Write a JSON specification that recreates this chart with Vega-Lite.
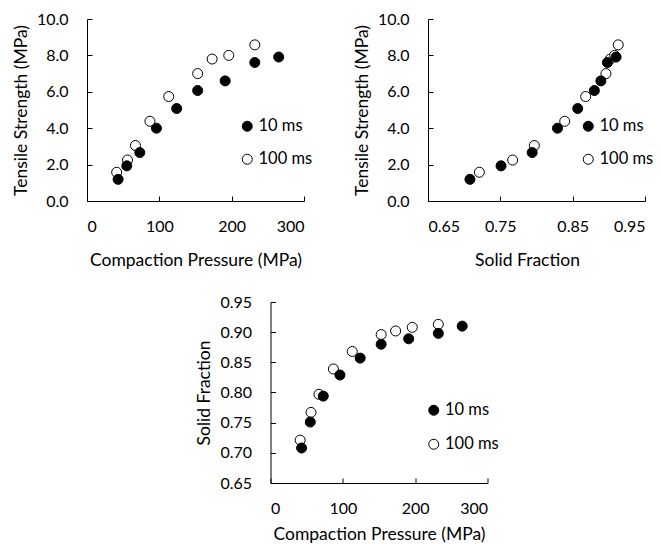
{
  "$schema": "https://vega.github.io/schema/vega-lite/v6.json",
  "background": "white",
  "padding": {"left": 12, "top": 11, "right": 0, "bottom": 0},
  "data": {"values": [
    {"series": "100 ms", "pressure": 41, "sf": 0.721, "ts": 1.58},
    {"series": "100 ms", "pressure": 56, "sf": 0.767, "ts": 2.25},
    {"series": "100 ms", "pressure": 67, "sf": 0.797, "ts": 3.05},
    {"series": "100 ms", "pressure": 87, "sf": 0.839, "ts": 4.38},
    {"series": "100 ms", "pressure": 113, "sf": 0.868, "ts": 5.74},
    {"series": "100 ms", "pressure": 153, "sf": 0.896, "ts": 7.0},
    {"series": "100 ms", "pressure": 173, "sf": 0.902, "ts": 7.8},
    {"series": "100 ms", "pressure": 196, "sf": 0.908, "ts": 8.0},
    {"series": "100 ms", "pressure": 232, "sf": 0.913, "ts": 8.58},
    {"series": "10 ms", "pressure": 43, "sf": 0.708, "ts": 1.19},
    {"series": "10 ms", "pressure": 55, "sf": 0.751, "ts": 1.93},
    {"series": "10 ms", "pressure": 73, "sf": 0.794, "ts": 2.66},
    {"series": "10 ms", "pressure": 96, "sf": 0.829, "ts": 4.0},
    {"series": "10 ms", "pressure": 124, "sf": 0.857, "ts": 5.08},
    {"series": "10 ms", "pressure": 153, "sf": 0.880, "ts": 6.07},
    {"series": "10 ms", "pressure": 191, "sf": 0.889, "ts": 6.6},
    {"series": "10 ms", "pressure": 232, "sf": 0.898, "ts": 7.61},
    {"series": "10 ms", "pressure": 265, "sf": 0.910, "ts": 7.91}
  ]},
  "config": {
    "font": "Lato",
    "view": {"stroke": null},
    "axis": {
      "grid": false,
      "domainColor": "black",
      "domainWidth": 1,
      "ticks": true,
      "tickColor": "black",
      "tickWidth": 1,
      "tickSize": -5,
      "labelColor": "black",
      "labelFontSize": 16,
      "titleColor": "black",
      "titleFontSize": 17.5,
      "titleFontWeight": "normal"
    },
    "axisX": {"labelPadding": 22, "titlePadding": 17},
    "axisY": {"labelPadding": 24, "titlePadding": 6},
    "legend": {
      "orient": "none",
      "legendX": 152,
      "legendY": 99,
      "padding": 0,
      "symbolType": "circle",
      "symbolSize": 100,
      "symbolStrokeColor": "black",
      "symbolStrokeWidth": 1,
      "labelFontSize": 16.5,
      "labelColor": "black",
      "labelOffset": 3,
      "rowPadding": 16
    }
  },
  "center": true,
  "spacing": 25,
  "resolve": {"legend": {"fill": "independent"}, "scale": {"fill": "independent"}},
  "vconcat": [
    {
      "spacing": 40,
      "resolve": {"legend": {"fill": "independent"}, "scale": {"fill": "independent"}},
      "hconcat": [
        {
          "width": 217,
          "height": 182,
          "mark": {"type": "point", "filled": true, "stroke": "black", "strokeWidth": 1, "size": 100, "opacity": 1},
          "encoding": {
            "x": {"field": "pressure", "type": "quantitative", "title": "Compaction Pressure (MPa)",
                  "scale": {"domain": [0, 300], "nice": false}, "axis": {"values": [0, 100, 200, 300]}},
            "y": {"field": "ts", "type": "quantitative", "title": "Tensile Strength (MPa)",
                  "scale": {"domain": [0, 10], "nice": false}, "axis": {"values": [0, 2, 4, 6, 8, 10], "format": ".1f"}},
            "fill": {"field": "series", "type": "nominal", "sort": null,
                     "scale": {"domain": ["10 ms", "100 ms"], "range": ["black", "white"]},
                     "legend": {"title": null}}
          }
        },
        {
          "width": 217,
          "height": 182,
          "mark": {"type": "point", "filled": true, "stroke": "black", "strokeWidth": 1, "size": 100, "opacity": 1},
          "encoding": {
            "x": {"field": "sf", "type": "quantitative", "title": "Solid Fraction",
                  "scale": {"domain": [0.65, 0.95], "nice": false, "zero": false}, "axis": {"values": [0.65, 0.75, 0.85, 0.95], "format": ".2f", "titleX": 99}},
            "y": {"field": "ts", "type": "quantitative", "title": "Tensile Strength (MPa)",
                  "scale": {"domain": [0, 10], "nice": false}, "axis": {"values": [0, 2, 4, 6, 8, 10], "format": ".1f"}},
            "fill": {"field": "series", "type": "nominal", "sort": null,
                     "scale": {"domain": ["10 ms", "100 ms"], "range": ["black", "white"]},
                     "legend": {"title": null, "padding": 29, "legendX": 123, "legendY": 70}}
          }
        }
      ]
    },
    {
      "width": 217,
      "height": 181,
      "mark": {"type": "point", "filled": true, "stroke": "black", "strokeWidth": 1, "size": 100, "opacity": 1},
      "encoding": {
        "x": {"field": "pressure", "type": "quantitative", "title": "Compaction Pressure (MPa)",
              "scale": {"domain": [0, 300], "nice": false}, "axis": {"values": [0, 100, 200, 300], "titlePadding": 9}},
        "y": {"field": "sf", "type": "quantitative", "title": "Solid Fraction",
              "scale": {"domain": [0.65, 0.95], "nice": false, "zero": false},
              "axis": {"values": [0.65, 0.7, 0.75, 0.8, 0.85, 0.9, 0.95], "format": ".2f"}},
        "fill": {"field": "series", "type": "nominal", "sort": null,
                 "scale": {"domain": ["10 ms", "100 ms"], "range": ["black", "white"]},
                 "legend": {"title": null, "legendX": 155, "legendY": 100, "rowPadding": 17}}
      }
    }
  ]
}
